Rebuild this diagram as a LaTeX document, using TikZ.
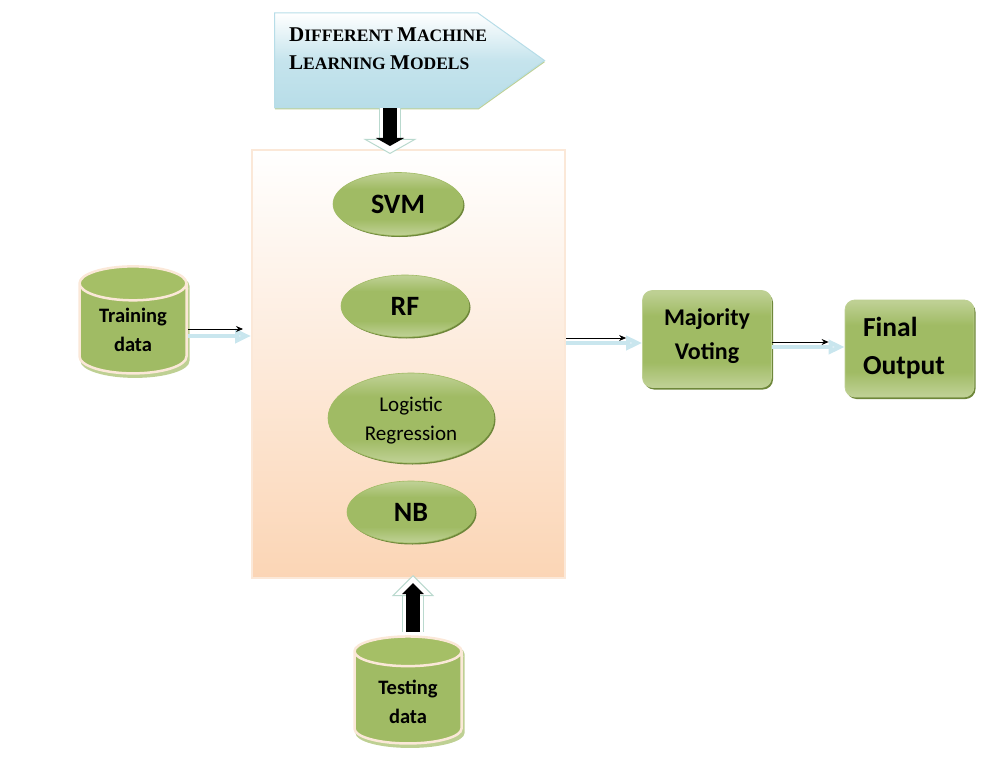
\documentclass[tikz,border=0pt]{standalone}
\usepackage{fontspec}
\setmainfont{Carlito}
\newfontfamily\titlefont{Liberation Serif}
\usetikzlibrary{shapes.geometric,shapes.symbols,arrows.meta,shadows,calc}

\definecolor{oliveDark}{RGB}{110,135,58}
\definecolor{oliveMid}{RGB}{160,187,100}
\definecolor{oliveLight}{RGB}{190,208,147}
\definecolor{oliveEnd}{RGB}{165,191,102}
\definecolor{peachFill}{RGB}{251,213,181}
\definecolor{peachRim}{RGB}{251,232,216}
\definecolor{paleBlue}{RGB}{183,221,232}
\colorlet{arrowEdge}{paleBlue!70!oliveLight}

\pgfdeclareverticalshading{oliveband}{100bp}{color(0bp)=(oliveLight); color(26bp)=(oliveLight);
  color(38bp)=(oliveMid); color(62bp)=(oliveMid); color(74bp)=(oliveLight); color(100bp)=(oliveLight)}

\tikzset{
  modelnode/.style={ellipse,shading=oliveband,draw=oliveMid,line width=0.6pt,text=black,align=center,inner sep=0pt,
    drop shadow={shadow xshift=1.5pt,shadow yshift=-1.5pt,fill=oliveDark,opacity=1}},
  bigfont/.style={font=\fontsize{28}{30}\selectfont\bfseries},
  resultnode/.style={rounded corners=10pt,shading=oliveband,
    draw=oliveLight,line width=0.8pt,text=black,inner sep=0pt,
    minimum width=129pt,minimum height=97pt,
    drop shadow={shadow xshift=1.5pt,shadow yshift=-2pt,fill=oliveDark,opacity=1}},
  databack/.style={cylinder,shape border rotate=90,aspect=0.5,cylinder uses custom fill,
    cylinder body fill=oliveLight,cylinder end fill=oliveLight,draw=none,
    minimum width=109pt,minimum height=109pt,inner sep=0pt,align=center,
    font=\fontsize{20.5}{29}\selectfont\bfseries},
  datanode/.style={cylinder,shape border rotate=90,aspect=0.5,cylinder uses custom fill,
    cylinder body fill=oliveMid,cylinder end fill=oliveEnd,draw=peachRim,line width=2.5pt,
    minimum width=107pt,minimum height=107pt,inner sep=0pt,align=center,text=black,
    font=\fontsize{20.5}{29}\selectfont\bfseries},
  blockback/.style n args={2}{draw=arrowEdge,line width=1pt,double=white,double distance=20pt,
    -{Triangle[length=#1,width=#2,fill=white,line width=1pt]}},
  blockfront/.style n args={2}{draw=black,line width=14pt,-{Triangle[length=#1,width=#2]}},
  paleback/.style={draw=paleBlue!75,line width=4.5pt,-{Triangle[length=16pt,width=14pt,fill=paleBlue!40]}},
  thinarrow/.style={draw=black,line width=0.8pt,-{Stealth[length=7pt,width=6pt]}},
}

\begin{document}
\begin{tikzpicture}[x=1pt,y=-1pt]
\useasboundingbox (0,0) rectangle (993,765);

% title arrow
\node (modelsbox) [signal,signal to=east,signal pointer angle=71,top color=white,bottom color=paleBlue,
  middle color=paleBlue!80,draw=paleBlue,line width=1pt,minimum width=270pt,minimum height=95pt,
  inner sep=0pt,anchor=west,
  drop shadow={shadow xshift=0.5pt,shadow yshift=-1.5pt,fill=oliveLight,opacity=1}]
  at (274,60.5) {\phantom{x}};
\node (modelslabel) [anchor=north west,inner sep=0pt,align=left,text=black,
  font=\titlefont\bfseries\fontsize{17.5}{28}\selectfont] at (289,28)
  {{\fontsize{21}{28}\selectfont D}IFFERENT {\fontsize{21}{28}\selectfont M}ACHINE\\
   {\fontsize{21}{28}\selectfont L}EARNING {\fontsize{21}{28}\selectfont M}ODELS};

% ensemble panel
\node (ensemble) [rectangle,top color=white,bottom color=peachFill,draw=peachRim,line width=2pt,
  minimum width=313pt,minimum height=428pt,inner sep=0pt] at (408.5,364) {};

\node (svm) [modelnode,bigfont,minimum width=130pt,minimum height=63pt] at (398,204) {SVM};
\node (rf) [modelnode,bigfont,minimum width=128pt,minimum height=62pt] at (405,306) {RF};
\node (logistic) [modelnode,minimum width=166pt,minimum height=90pt,font=\fontsize{21}{29}\selectfont] at (411,418) {\rule{0pt}{19pt}Logistic\\Regression};
\node (nb) [modelnode,bigfont,minimum width=128pt,minimum height=62pt] at (411,512) {NB};

\node (trainingback) [databack] at (135,332) {\phantom{Training}\\\phantom{data}};
\node (training) [datanode] at (133,329) {\rule{0pt}{17pt}Training\\data};
\node (testingback) [databack] at (410,701) {\phantom{Testing}\\\phantom{data}};
\node (testing) [datanode] at (408,698) {\rule{0pt}{23pt}Testing\\data};

\node (majority) [resultnode,align=center,font=\fontsize{24}{34}\selectfont\bfseries] at (707,339) {Majority\\Voting\rule[-9pt]{0pt}{9pt}};
\node (final) [resultnode,align=left,font=\fontsize{27.5}{38}\selectfont\bfseries] at (909.5,348.5) {\hspace*{-11pt}Final\\\hspace*{-11pt}Output};

% block arrows
\coordinate (modelsout) at (modelsbox.south -| 390,0);
\coordinate (ensembletop) at (ensemble.north -| modelsout);
\draw[blockback={15pt}{53pt}] (modelsout) -- ([yshift=-5pt]ensembletop);
\draw[blockfront={8pt}{28pt}] (modelsout) -- ([yshift=3pt]ensembletop);
\coordinate (testingout) at ([yshift=3pt]testing.north -| 413,0);
\coordinate (ensemblebottom) at (ensemble.south -| testingout);
\draw[blockback={21pt}{42pt}] (testingout) -- ([yshift=4pt]ensemblebottom);
\draw[blockfront={11pt}{21pt}] (testingout) -- ([yshift=-4pt]ensemblebottom);

% thin arrows
\coordinate (trainback) at ([yshift=-7pt]training.east);
\coordinate (trainthin) at (training.east);
\draw[paleback] (trainback) -- (trainback -| ensemble.west);
\draw[thinarrow] (trainthin) -- ([xshift=-8pt]trainthin -| ensemble.west);
\coordinate (ensembleback) at (ensemble.east |- 0,343);
\coordinate (ensemblethin) at (ensemble.east |- 0,338);
\draw[paleback] (ensembleback) -- (ensembleback -| majority.west);
\draw[thinarrow] (ensemblethin) -- ([xshift=-16pt]ensemblethin -| majority.west);
\coordinate (majorityback) at (majority.east |- 0,347);
\coordinate (majoritythin) at (majority.east |- 0,342);
\draw[paleback] (majorityback) -- (majorityback -| final.west);
\draw[thinarrow] (majoritythin) -- ([xshift=-16pt]majoritythin -| final.west);

\end{tikzpicture}
\end{document}
